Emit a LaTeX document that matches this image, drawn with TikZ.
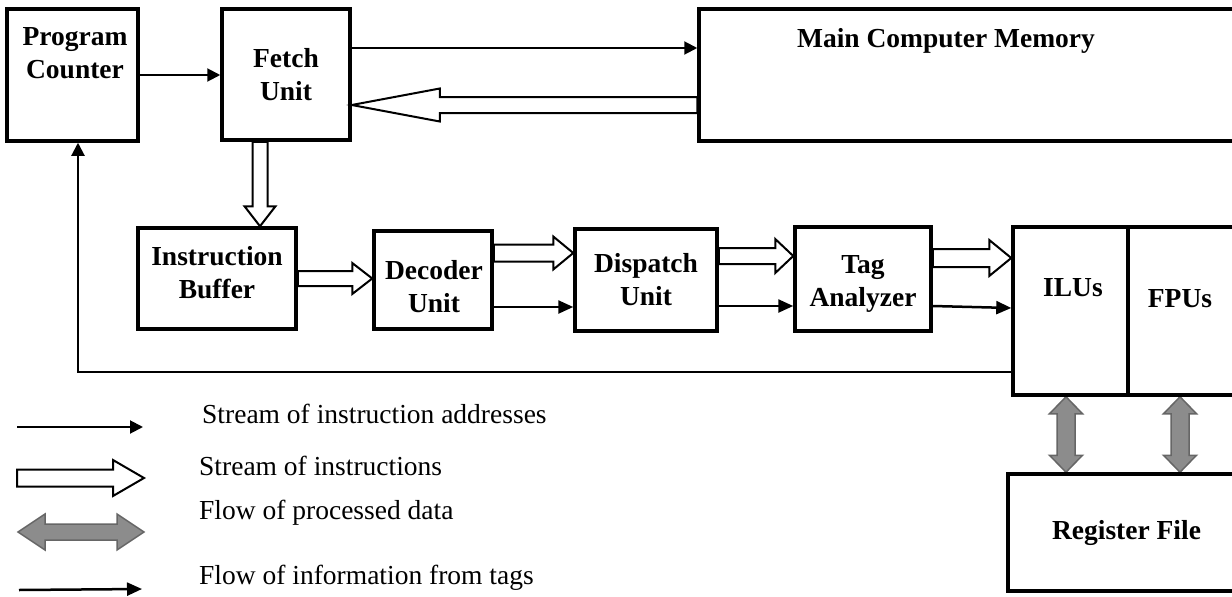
\documentclass[tikz,border=0pt]{standalone}
\usepackage{fontspec}
\setmainfont{Liberation Serif}
\usetikzlibrary{arrows.meta, calc, backgrounds}

% wide outlined arrow: [style]{from}{to}{shaft half width}{head half width}{head length}
\newcommand{\fatarrow}[6][instr]{%
  \draw[#1] let \p1=(#2), \p2=(#3),
      \n1={atan2(\y2-\y1,\x2-\x1)}, \n2={veclen(\x2-\x1,\y2-\y1)} in
    [shift={(\p1)}, rotate=\n1]
    (0pt,#4) -- (\n2-#6,#4) -- (\n2-#6,#5) -- (\n2,0pt)
    -- (\n2-#6,-#5) -- (\n2-#6,-#4) -- (0pt,-#4) -- cycle;
}
% same, with a head at both ends
\newcommand{\fatdblarrow}[6][procdata]{%
  \draw[#1] let \p1=(#2), \p2=(#3),
      \n1={atan2(\y2-\y1,\x2-\x1)}, \n2={veclen(\x2-\x1,\y2-\y1)} in
    [shift={(\p1)}, rotate=\n1]
    (0pt,0pt) -- (#6,#5) -- (#6,#4) -- (\n2-#6,#4) -- (\n2-#6,#5) -- (\n2,0pt)
    -- (\n2-#6,-#5) -- (\n2-#6,-#4) -- (#6,-#4) -- (#6,-#5) -- cycle;
}

\begin{document}
\begin{tikzpicture}[
    x=1pt, y=-1pt,
    blk/.style={draw, line width=3.5pt, inner sep=0pt, align=center,
      font=\fontsize{27.5pt}{33pt}\selectfont\bfseries},
    lbl/.style={inner sep=0pt, align=center,
      font=\fontsize{27.5pt}{33pt}\selectfont\bfseries},
    legtext/.style={inner sep=0pt, anchor=base west,
      font=\fontsize{27.5pt}{33pt}\selectfont},
    addr/.style={-{Triangle[length=13pt, width=13pt]}, line width=2pt},
    tagflow/.style={-{Triangle[length=15pt, width=13pt]}, line width=2.5pt},
    instr/.style={draw, fill=white, line width=2pt},
    procdata/.style={draw=black!60, fill=black!45, line width=1.5pt}
]

\useasboundingbox (0,0) rectangle (1232,597);

% Units
\node[blk, minimum width=131, minimum height=132] (pc) at (72.5,75) {};
\node[lbl] (pc-lbl) at (75,53.5) {Program\\Counter};
\node[blk, minimum width=128, minimum height=131] (fetch) at (286,74.5) {Fetch\\Unit};
\node[blk, minimum width=546, minimum height=132] (mem) at (972,75) {};
\node[lbl, anchor=base] (mem-lbl) at (946,47) {Main Computer Memory};

\node[blk, minimum width=158, minimum height=101] (ibuf) at (217,278.5) {};
\node[lbl] (ibuf-lbl) at (217,272.5) {Instruction\\Buffer};
\node[blk, minimum width=118, minimum height=98] (dec) at (433,280) {};
\node[lbl] (dec-lbl) at (434,286.5) {Decoder\\Unit};
\node[blk, minimum width=142, minimum height=102] (disp) at (646,280) {Dispatch\\Unit};
\node[blk, minimum width=136, minimum height=104] (tag) at (863,279) {};
\node[lbl] (tag-lbl) at (863,284) {Tag\\Analyzer};

\node[blk, minimum width=115, minimum height=168] (ilu) at (1070.5,311) {};
\node[lbl, anchor=base] (ilu-lbl) at (1073,296) {ILUs};
\node[blk, minimum width=117, minimum height=168] (fpu) at (1186.5,311) {};
\node[lbl, anchor=base] (fpu-lbl) at (1180,307) {FPUs};
\node[blk, minimum width=237, minimum height=117] (regf) at (1126.5,532.5) {Register File};

% Instruction addresses
\draw[addr] (pc.east) -- (pc.east -| fetch.west);
\coordinate (fm) at ($(fetch.east)+(0,-26.5)$);
\draw[addr] (fm) -- (fm -| mem.west);
\coordinate (fb) at ($(ilu.west)+(0,61)$);
\draw[addr] (fb) -| ($(pc.south)+(5.5,0)$);

\begin{pgfonlayer}{background}
% Instructions
\coordinate (mf) at ($(mem.west)+(0,30)$);
\fatarrow{mf}{mf -| fetch.east}{8pt}{16.5pt}{88pt}
\coordinate (fi) at ($(fetch.south)+(-26,0)$);
\fatarrow{fi}{fi |- ibuf.north}{7.5pt}{15.5pt}{20pt}
\fatarrow{ibuf.east}{ibuf.east -| dec.west}{7.5pt}{15.5pt}{20pt}
\coordinate (dd) at ($(dec.east)+(0,-27)$);
\fatarrow{dd}{dd -| disp.west}{8.5pt}{16.5pt}{20pt}
\coordinate (dt) at ($(disp.east)+(0,-24)$);
\fatarrow{dt}{dt -| tag.west}{8pt}{17pt}{18pt}
\coordinate (ti) at ($(tag.east)+(0,-21)$);
\fatarrow{ti}{ti -| ilu.west}{9pt}{18pt}{22pt}

% Processed data
\coordinate (ir) at ($(ilu.south)+(-4.5,0)$);
\fatdblarrow{ir}{ir |- regf.north}{9pt}{16.5pt}{17pt}
\coordinate (fr) at ($(fpu.south)+(-6.5,0)$);
\fatdblarrow{fr}{fr |- regf.north}{9pt}{16.5pt}{17pt}
\end{pgfonlayer}

% Tag information
\coordinate (dg) at ($(dec.east)+(0,27)$);
\draw[tagflow] (dg) -- (dg -| disp.west);
\coordinate (sg) at ($(disp.east)+(0,26)$);
\draw[tagflow] (sg) -- (sg -| tag.west);
\draw[tagflow] ($(tag.east)+(0,27)$) -- ($(ilu.west)+(0,-3)$);

% Legend
\coordinate (l1a) at (17,427); \coordinate (l1b) at (143,427);
\draw[addr] (l1a) -- (l1b);
\node[legtext] (l1) at (202,423) {Stream of instruction addresses};
\coordinate (l2a) at (17,478); \coordinate (l2b) at (144,478);
\fatarrow{l2a}{l2b}{8.5pt}{18pt}{31pt}
\node[legtext] (l2) at (199,475) {Stream of instructions};
\coordinate (l3a) at (18,532); \coordinate (l3b) at (144,532);
\fatdblarrow{l3a}{l3b}{8pt}{18pt}{27pt}
\node[legtext] (l3) at (199,519) {Flow of processed data};
\coordinate (l4a) at (19,590); \coordinate (l4b) at (142,589);
\draw[tagflow] (l4a) -- (l4b);
\node[legtext] (l4) at (199,584) {Flow of information from tags};

\end{tikzpicture}
\end{document}
